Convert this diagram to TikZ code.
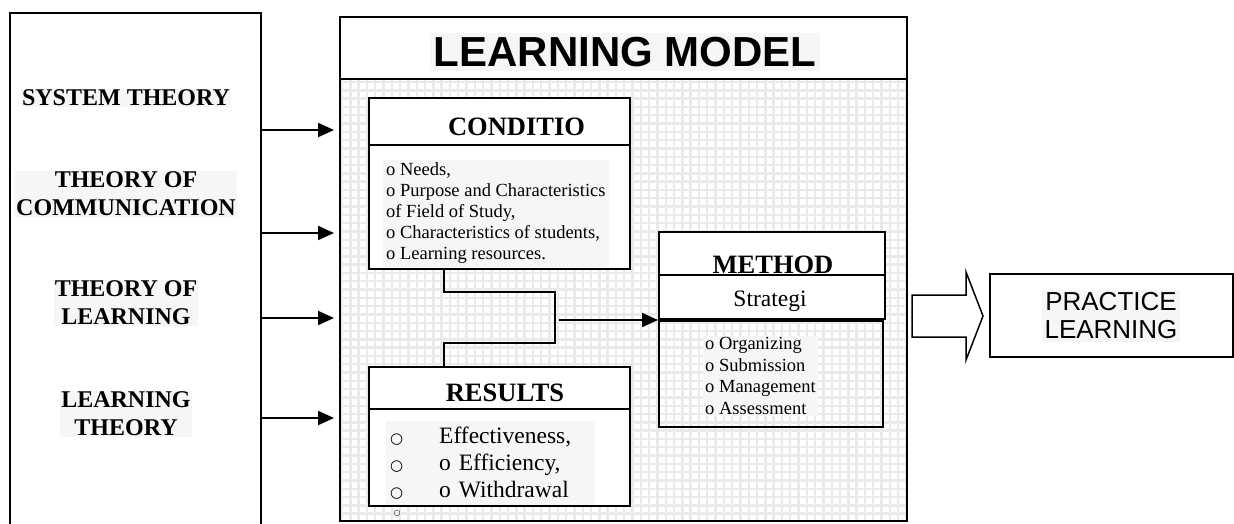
\documentclass[tikz,border=0pt]{standalone}
\usepackage{fontspec}
\setmainfont{Liberation Serif}
\newfontfamily\arial{Liberation Sans}
\newfontfamily\symf{DejaVu Sans}
\usetikzlibrary{arrows.meta}
\definecolor{hl}{RGB}{245,246,248}
\definecolor{gridc}{RGB}{234,234,234}
\begin{document}
\begin{tikzpicture}[x=1pt,y=-1pt,
  box/.style={draw=black, line width=2pt, inner sep=0pt, rectangle},
  wbox/.style={box, fill=white},
  arr/.style={line width=2pt, -{Triangle[length=16pt,width=14pt]}},
  conn/.style={line width=2pt},
  lbl/.style={font=\fontsize{24}{28}\selectfont\bfseries, align=center, fill=hl, inner sep=1pt},
  head/.style={font=\fontsize{26.5}{28}\selectfont\bfseries, inner sep=0pt},
  listf/.style={font=\fontsize{18.5}{21}\selectfont, align=left, fill=hl, inner sep=3pt},
  gline/.style={draw=gridc, line width=2.4pt}
]
\path[use as bounding box, clip] (0,0) rectangle (1234,523);

% left theories box
\node[box, minimum width=251pt, minimum height=547pt] (theo) at (135.5,286.5) {};
\node[lbl] (t1) at (126,98) {SYSTEM THEORY};
\node[lbl] (t2) at (126,194) {THEORY OF\\COMMUNICATION};
\node[lbl] (t3) at (126,303) {THEORY OF\\LEARNING};
\node[lbl] (t4) at (126,414) {LEARNING\\THEORY};

% model box
\node[box, fill=white, minimum width=567pt, minimum height=504pt] (model) at (623.5,269) {};
\begin{scope}
  \clip (340,79) rectangle (907,521);
  \foreach \i in {0,...,69} \draw[gline] (342+\i*8.3,79) -- (342+\i*8.3,521);
  \foreach \i in {0,...,54} \draw[gline] (340,82+\i*8.3) -- (907,82+\i*8.3);
\end{scope}
\node[box, minimum width=567pt, minimum height=504pt] at (model.center) {};
\draw[conn] (340,79) -- (907,79);
\node[font=\arial\bfseries\fontsize{42}{42}\selectfont, fill=hl, inner sep=4pt] (title) at (625,52) {LEARNING MODEL};

% CONDITIO
\node[wbox, minimum width=261pt, minimum height=171pt] (cond) at (499.5,183.5) {};
\draw[conn] (369,145) -- (630,145);
\node[head, anchor=base] (condt) at (516.5,135.5) {CONDITIO};
\node[listf, anchor=west] (condl) at (383,213.5) {o Needs,\\o Purpose and Characteristics\\of Field of Study,\\o Characteristics of students,\\o Learning resources.};

% RESULTS
\node[rectangle, fill=white, inner sep=0pt, minimum width=261pt, minimum height=139pt] (res) at (499.5,436.5) {};
\node[font=\fontsize{23.5}{27}\selectfont, align=left, fill=hl, inner sep=4pt, text width=201pt, minimum height=84pt, anchor=north west] (resl) at (386,421)
  {\makebox[49pt][l]{\symf\fontsize{15}{15}\selectfont ○}Effectiveness,\\
   \makebox[49pt][l]{\symf\fontsize{15}{15}\selectfont ○}o Efficiency,\\
   \makebox[49pt][l]{\symf\fontsize{15}{15}\selectfont ○}o Withdrawal};
\draw[conn] (res.north west) rectangle (res.south east);
\draw[conn] (369,409) -- (630,409);
\node[head, anchor=base] (rest) at (505,401) {RESULTS};
\node[font=\symf\fontsize{8}{8}\selectfont, inner sep=0pt] (rdot) at (397,513) {○};

% METHOD
\node[wbox, minimum width=226pt, minimum height=87pt] (meth) at (772,275.5) {};
\node[box, minimum width=224pt, minimum height=106pt] (methl) at (771,374) {};
\node[head, anchor=base] (metht) at (773,273) {METHOD};
\draw[conn] (659,275) -- (885,275);
\node[font=\fontsize{23.5}{26}\selectfont, anchor=base, inner sep=0pt] (strat) at (770,306) {Strategi};
\node[listf, font=\fontsize{18.5}{21.5}\selectfont, anchor=west, inner sep=2pt] (methli) at (703,376) {o Organizing\\o Submission\\o Management\\o Assessment};

% connectors inside model
\coordinate (b1) at (444,292);
\coordinate (b2) at (555,292);
\coordinate (b3) at (555,343);
\coordinate (b4) at (444,343);
\coordinate (b5) at (559,320);
\draw[conn] (cond.south -| b1) -- (b1) -- (b2) -- (b3) -- (b4) -- (res.north -| b4);
\draw[arr] (b5) -- (meth.south west);

% arrows from theories
\coordinate (a1) at (0,130);
\coordinate (a2) at (0,233);
\coordinate (a3) at (0,318);
\coordinate (a4) at (0,418);
\foreach \a in {a1,a2,a3,a4}
  \draw[arr, shorten >=5pt] (theo.east |- \a) -- (model.west |- \a);

% practice
\node[box, minimum width=243pt, minimum height=83pt] (prac) at (1111.5,315.5) {};
\node[font=\arial\fontsize{26}{28}\selectfont, align=center, fill=hl, inner sep=3pt] (pract) at (1111,316) {PRACTICE\\LEARNING};
\draw[line width=1.5pt, fill=white, line join=miter] (912,295) -- (966,295) -- (966,272) -- (983,316) -- (966,360) -- (966,337) -- (912,337) -- cycle;
\end{tikzpicture}
\end{document}
